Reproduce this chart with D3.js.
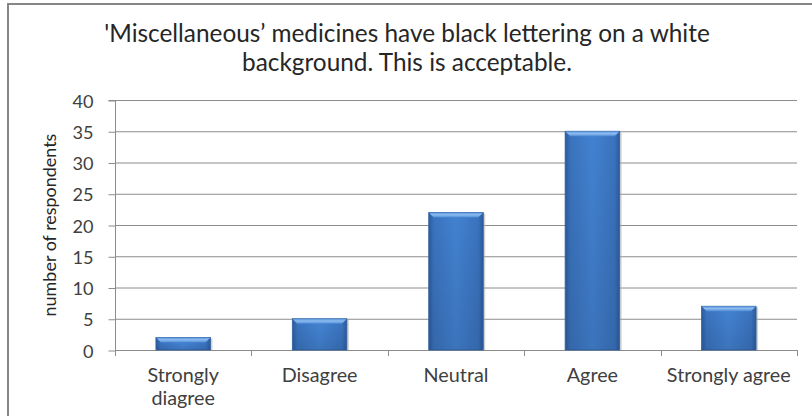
<!DOCTYPE html>
<html>
<head>
<meta charset="utf-8">
<script src="https://cdn.jsdelivr.net/npm/d3@7"></script>
<style>
  body { margin: 0; background: #fff; }
  text { font-family: Lato, "Open Sans", sans-serif; }
</style>
</head>
<body>
<svg width="812" height="416"></svg>
<script>
var categories = ["Strongly\ndiagree", "Disagree", "Neutral", "Agree", "Strongly agree"];
var respondents = [2, 5, 22, 35, 7];
var yTicks = [0, 5, 10, 15, 20, 25, 30, 35, 40];
var titleLines = ["'Miscellaneous\u2019 medicines have black lettering on a white", "background. This is acceptable."];

var svg = d3.select("svg");
var plot = {left: 115, right: 797, top: 100, bottom: 350};

// font size that makes `str` about `target` px wide
function fitSize(str, target) {
  var t = svg.append("text").style("font-size", "20px").text(str);
  var w = t.node().getComputedTextLength();
  t.remove();
  return 20 * target / w;
}
var titleSize = fitSize(titleLines[0], 606);
var labelSize = fitSize("Disagree", 76);
var tickSize = Math.min(19, fitSize("40", 21));
var axisTitleSize = fitSize("number of respondents", 183);

// outer frame (only top and left edges fall inside the picture)
svg.append("rect")
    .attr("x", 8).attr("y", 4)
    .attr("width", 830).attr("height", 430)
    .attr("fill", "none")
    .attr("stroke", "#868686")
    .attr("stroke-width", 2);

var x = d3.scaleBand()
    .domain(categories)
    .range([plot.left, plot.right])
    .paddingInner(0.6).paddingOuter(0.3);
var xOuter = d3.scaleBand()
    .domain(categories)
    .range([plot.left, plot.right]);
var y = d3.scaleLinear()
    .domain([0, 40])
    .range([plot.bottom, plot.top]);

// gridlines
svg.append("g").selectAll("line")
    .data(yTicks.filter(function(d) { return d > 0; }))
    .enter().append("line")
      .attr("x1", plot.left).attr("x2", plot.right)
      .attr("y1", function(d) { return y(d) + 0.5; })
      .attr("y2", function(d) { return y(d) + 0.5; })
      .attr("stroke", "#8c8c8c").attr("stroke-width", 1);

// y axis
var yAxis = svg.append("g")
    .attr("transform", "translate(" + (plot.left + 0.5) + ",0.5)")
    .call(d3.axisLeft(y).tickValues(yTicks).tickSize(7).tickPadding(15));
yAxis.select(".domain").attr("stroke", "#8c8c8c").attr("d", "M-7," + y(40) + "H0V" + y(0));
yAxis.selectAll(".tick line").attr("stroke", "#8c8c8c");
yAxis.selectAll(".tick text")
    .attr("fill", "#404040")
    .attr("dy", "0.36em")
    .style("font-size", tickSize + "px");

// x axis line and ticks at band edges
svg.append("line")
    .attr("x1", plot.left).attr("x2", plot.right)
    .attr("y1", y(0) + 0.5).attr("y2", y(0) + 0.5)
    .attr("stroke", "#8c8c8c");
var edges = categories.map(function(c) { return xOuter(c); }).concat([plot.right]);
svg.append("g").selectAll("line")
    .data(edges)
    .enter().append("line")
      .attr("x1", function(d) { return Math.round(d) + 0.5; })
      .attr("x2", function(d) { return Math.round(d) + 0.5; })
      .attr("y1", y(0)).attr("y2", y(0) + 6)
      .attr("stroke", "#8c8c8c");

// x labels
svg.append("g").selectAll("text")
    .data(categories)
    .enter().append("text")
      .attr("x", function(d) { return xOuter(d) + xOuter.bandwidth() / 2; })
      .attr("y", 382)
      .attr("text-anchor", "middle")
      .attr("fill", "#404040")
      .style("font-size", labelSize + "px")
      .each(function(d) {
        var t = d3.select(this);
        d.split("\n").forEach(function(line, i) {
          t.append("tspan")
            .attr("x", t.attr("x"))
            .attr("dy", i ? 23 : 0)
            .text(line);
        });
      });

// y title
svg.append("text")
    .attr("transform", "translate(56," + ((plot.top + plot.bottom) / 2) + ") rotate(-90)")
    .attr("text-anchor", "middle")
    .attr("fill", "#262626")
    .style("font-size", axisTitleSize + "px")
    .text("number of respondents");

// title
svg.append("g").selectAll("text")
    .data(titleLines)
    .enter().append("text")
      .attr("x", 407)
      .attr("y", function(d, i) { return 42 + i * 29; })
      .attr("text-anchor", "middle")
      .attr("fill", "#262626")
      .style("font-size", titleSize + "px")
      .text(function(d) { return d; });

// bar gradients
var defs = svg.append("defs");
var face = defs.append("linearGradient").attr("id", "face").attr("x1", 0).attr("x2", 1).attr("y1", 0).attr("y2", 0);
face.append("stop").attr("offset", "0%").attr("stop-color", "#2a5a9b");
face.append("stop").attr("offset", "9%").attr("stop-color", "#3a72bd");
face.append("stop").attr("offset", "50%").attr("stop-color", "#4281d0");
face.append("stop").attr("offset", "91%").attr("stop-color", "#3a72bd");
face.append("stop").attr("offset", "100%").attr("stop-color", "#2a5a9b");
var bevel = defs.append("linearGradient").attr("id", "topbevel").attr("x1", 0).attr("x2", 0).attr("y1", 0).attr("y2", 1);
bevel.append("stop").attr("offset", "0%").attr("stop-color", "#5690d8");
bevel.append("stop").attr("offset", "45%").attr("stop-color", "#8dbdf0");
bevel.append("stop").attr("offset", "100%").attr("stop-color", "#4e8ad6");
var shade = defs.append("linearGradient").attr("id", "shade").attr("x1", 0).attr("x2", 0).attr("y1", 0).attr("y2", 1);
shade.append("stop").attr("offset", "0%").attr("stop-color", "#000").attr("stop-opacity", 0);
shade.append("stop").attr("offset", "100%").attr("stop-color", "#000").attr("stop-opacity", 0.1);

var bars = svg.append("g").selectAll("g")
    .data(categories.map(function(c, i) { return {cat: c, value: respondents[i]}; }))
    .enter().append("g");

// soft shadow
bars.append("rect")
    .attr("x", function(d) { return x(d.cat) + 1; })
    .attr("y", function(d) { return y(d.value) + 1; })
    .attr("width", x.bandwidth() + 1)
    .attr("height", function(d) { return y(0) - y(d.value) - 1; })
    .attr("fill", "#aaa").attr("opacity", 0.5);

bars.append("rect")
    .attr("x", function(d) { return x(d.cat); })
    .attr("y", function(d) { return y(d.value); })
    .attr("width", x.bandwidth())
    .attr("height", function(d) { return y(0) - y(d.value); })
    .attr("fill", "url(#face)")
    .attr("stroke", "#30609f").attr("stroke-width", 0.8);

bars.append("rect")
    .attr("x", function(d) { return x(d.cat) + 1; })
    .attr("y", function(d) { return y(d.value) + 6; })
    .attr("width", x.bandwidth() - 2)
    .attr("height", function(d) { return Math.max(0, y(0) - y(d.value) - 6); })
    .attr("fill", "url(#shade)");

bars.append("path")
    .attr("d", function(d) {
      var x0 = x(d.cat), x1 = x0 + x.bandwidth(), y0 = y(d.value), b = 5;
      return "M" + x0 + "," + y0 + "L" + x1 + "," + y0 + "L" + (x1 - b) + "," + (y0 + b) +
             "L" + (x0 + b) + "," + (y0 + b) + "Z";
    })
    .attr("fill", "url(#topbevel)");
</script>
</body>
</html>
